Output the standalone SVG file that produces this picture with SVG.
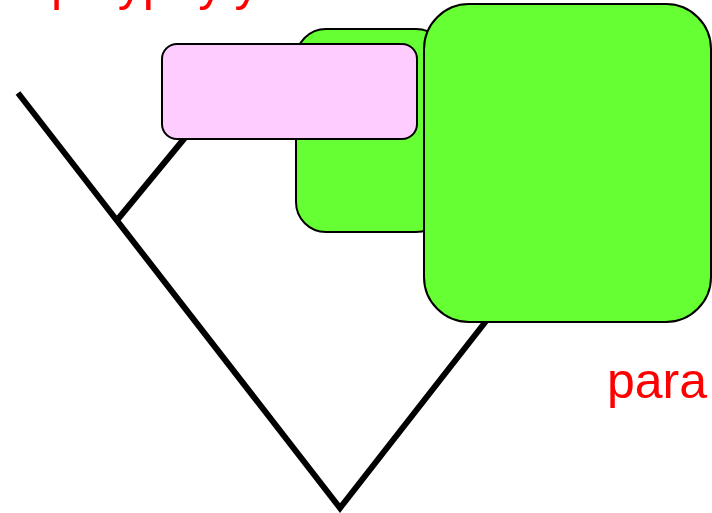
<svg xmlns="http://www.w3.org/2000/svg" width="712" height="513" viewBox="0 0 712 513">
<style>
.lbl{font-family:"Liberation Sans",Arial,sans-serif;font-size:50px;fill:#ff0000}
.box{stroke:#000;stroke-width:2}
.green{fill:#66ff33}
.pink{fill:#ffccff}
.edge{stroke:#000;stroke-width:6;fill:none;stroke-linecap:butt;stroke-linejoin:miter}
</style>
<rect width="712" height="513" fill="#fff"/>
<g id="connectors">
<polyline class="edge" points="18,93 340,508 490,316"/>
<line class="edge" x1="118" y1="219" x2="188" y2="134"/>
</g>
<g id="group-small-green"><rect class="box green" x="296" y="29" width="150" height="203" rx="30"/></g>
<g id="group-pink"><rect class="box pink" x="162" y="44" width="255" height="95" rx="15"/></g>
<g id="group-big-green"><rect class="box green" x="424" y="4" width="287" height="318" rx="45"/></g>
<text class="lbl" x="51" y="0">polyphyly</text>
<text class="lbl" x="607" y="398">para</text>
</svg>
